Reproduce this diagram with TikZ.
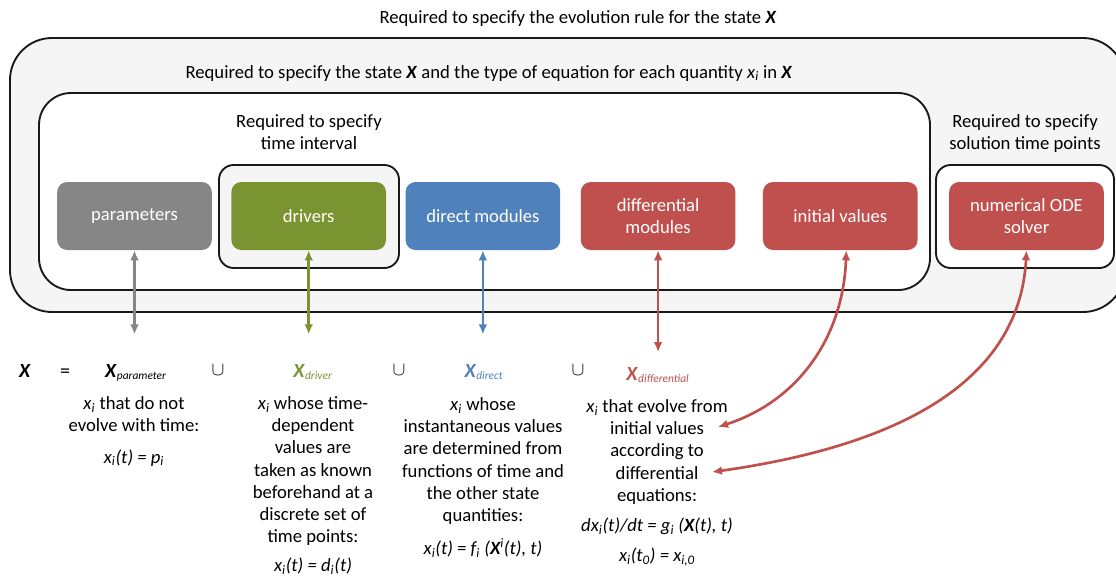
\documentclass[tikz,border=0pt]{standalone}
\usepackage{fontspec}
\setmainfont{Carlito}
\usetikzlibrary{arrows.meta,positioning}

\definecolor{parcol}{HTML}{868686}
\definecolor{drvcol}{HTML}{7A9431}
\definecolor{dircol}{HTML}{4F81BD}
\definecolor{difcol}{HTML}{C0504D}
\definecolor{panel}{HTML}{F5F5F5}

\newcommand{\Xb}{\textbf{\textit{X}}}
\newcommand{\Xsub}[1]{\Xb\textsubscript{\fontsize{8.6}{10}\selectfont\textit{#1}}}
\newcommand{\xvar}{\textit{x}\textsubscript{\textit{i}}}

\begin{document}
\begin{tikzpicture}[x=0.75pt, y=-0.75pt, node distance=14.25pt,
    font=\fontsize{14}{16.7}\selectfont]
  % Styles
  \tikzstyle{block} = [rectangle, rounded corners=7.5pt, text=white,
  align=center, minimum width=116pt, minimum height=51pt, inner sep=0pt]
  \tikzstyle{frame} = [draw=black!90, line width=1.4pt]
  \tikzstyle{note} = [align=center, inner sep=0pt]
  \tikzstyle{head} = [inner sep=0pt, anchor=base, font=\fontsize{15}{18}\selectfont]
  \tikzstyle{link} = [line width=2pt,
  {Latex[length=7.5pt,width=6.5pt]}-{Latex[length=7.5pt,width=6.5pt]}]

  \useasboundingbox (0,0) rectangle (1116,576);

  % Frames
  \draw[frame, fill=panel, rounded corners=31.5pt] (10,38) rectangle (1125,312);
  \draw[frame, fill=white, rounded corners=24pt] (39,93) rectangle (930,290);
  \draw[frame, fill=panel, rounded corners=11pt] (219,165) rectangle (399,268);
  \draw[frame, fill=white, rounded corners=11pt] (936,165) rectangle (1114,268);

  \node[note, anchor=base] (evolution) at (578,23)
  {Required to specify the evolution rule for the state \Xb};
  \node[note, anchor=base] (statetype) at (489,78)
  {Required to specify the state \Xb{} and the type of equation for each quantity \xvar{} in \Xb};
  \node[note, anchor=north] (interval) at (309,114) {Required to specify\\time interval};
  \node[note, anchor=north] (timepoints) at (1025,114) {Required to specify\\solution time points};

  % Modules
  \node[block, fill=parcol] (params) at (134.5,216) {parameters};
  \node[block, fill=drvcol, right=14.25pt of params] (drivers) {drivers};
  \node[block, fill=dircol, right=14.25pt of drivers] (direct) {direct modules};
  \node[block, fill=difcol, right=15pt of direct] (diffmod) {differential\\modules};
  \node[block, fill=difcol, right=20.25pt of diffmod] (initval) {initial values};
  \node[block, fill=difcol, right=23.25pt of initval] (solver) {numerical ODE\\solver};

  % State
  \node[head] (state) at (25,377) {\Xb};
  \node[head] (equals) at (65,377) {=};
  \node[head] (xpar) at (136,377) {\Xsub{parameter}};
  \node[head] (cupa) at (218,375) {$\cup$};
  \node[head, text=drvcol] (xdrv) at (313,377) {\Xsub{driver}};
  \node[head] (cupb) at (399,375) {$\cup$};
  \node[head, text=dircol] (xdir) at (484,377) {\Xsub{direct}};
  \node[head] (cupc) at (578,375) {$\cup$};
  \node[head, text=difcol] (xdif) at (658,380) {\Xsub{differential}};

  \node[note, anchor=north] (pardesc) at (134,396)
  {\xvar{} that do not\\evolve with time:\\[7pt]
    \textit{x\textsubscript{i}(t) = p\textsubscript{i}}};
  \node[note, anchor=north] (drvdesc) at (313,396)
  {\xvar{} whose time-\\dependent\\values are\\taken as known\\beforehand at a\\discrete set of\\time points:\\[5pt]
    \textit{x\textsubscript{i}(t) = d\textsubscript{i}(t)}};
  \node[note, anchor=north] (dirdesc) at (483,397)
  {\xvar{} whose\\instantaneous values\\are determined from\\functions of time and\\the other state\\quantities:\\[8pt]
    \textit{x\textsubscript{i}(t) = f\textsubscript{i} (\textbf{X}\textsuperscript{i}(t), t)}};
  \node[note, anchor=north] (difdesc) at (657,399)
  {\xvar{} that evolve from\\initial values\\according to\\differential\\equations:\\[6pt]
    \textit{dx\textsubscript{i}(t)/dt = g\textsubscript{i} (\textbf{X}(t), t)}\\[6pt]
    \textit{x\textsubscript{i}(t\textsubscript{0}) = x\textsubscript{i,0}}};

  % Links
  \coordinate (ivtip) at (718,427);
  \coordinate (detip) at (712,472);

  \draw[link, parcol, shorten >=22pt] (params.south) -- (params.south |- xpar.north);
  \draw[link, drvcol, shorten >=22pt] (drivers.south) -- (drivers.south |- xdrv.north);
  \draw[link, dircol, shorten >=22pt] (direct.south) -- (direct.south |- xdir.north);
  \draw[link, difcol, shorten >=11pt] (diffmod.south) -- (diffmod.south |- xdif.north);
  \draw[link, difcol] ([xshift=4.5pt]initval.south) to[out=-92, in=18] (ivtip);
  \draw[link, difcol] (solver.south) to[out=-93, in=8] (detip);
\end{tikzpicture}
\end{document}
